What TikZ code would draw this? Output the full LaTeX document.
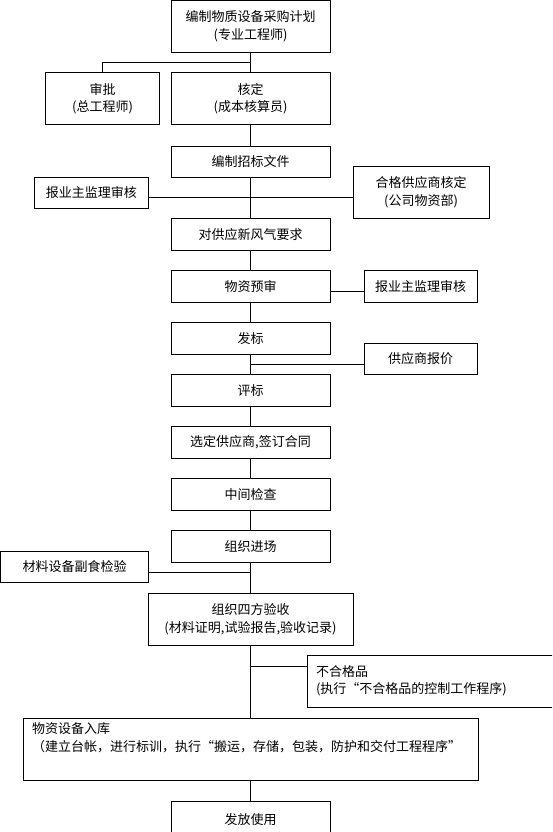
\documentclass[tikz,border=0pt]{standalone}
\usepackage{fontspec}
\setmainfont{Noto Sans CJK SC}
\usetikzlibrary{positioning,calc}

\begin{document}
\begin{tikzpicture}[
    x=1pt, y=-1pt,
    font=\fontsize{13pt}{17.5pt}\selectfont,
    box/.style={draw, line width=1pt, align=center, inner sep=2pt,
                minimum height=32pt, minimum width=159pt},
    sidebox/.style={box, minimum width=114pt},
    tallbox/.style={box, minimum height=52pt},
    link/.style={line width=1pt},
  ]
  \clip (0,0) rectangle (552,832);

  % main column
  \node[tallbox] (jh) at (250.5,26.5) {编制物质设备采购计划\\(专业工程师)};
  \node[tallbox, below=19.5pt of jh] (hd) {核定\\(成本核算员)};
  \node[box, minimum height=31pt, below=20pt of hd] (zb) {编制招标文件};
  \node[box, below=40.5pt of zb] (yq) {对供应新风气要求};
  \node[box, below=19pt of yq] (ys) {物资预审};
  \node[box, below=19pt of ys] (fb) {发标};
  \node[box, below=19pt of fb] (pb) {评标};
  \node[box, below=19pt of pb] (xd) {选定供应商,签订合同};
  \node[box, below=19pt of xd] (jc) {中间检查};
  \node[box, below=19pt of jc] (jcc) {组织进场};
  \node[tallbox, minimum width=205pt, below=30pt of jcc] (sfys) {组织四方验收\\(材料证明,试验报告,验收记录)};
  \node[box, minimum height=62pt, minimum width=0pt, text width=437pt, inner xsep=9pt,
        align=left, below=72pt of sfys] (rk)
    {物资设备入库\\（建立台帐，进行标训，执行“搬运，存储，包装，防护和交付工程程序”\\[7pt]~};
  \node[box, minimum height=36pt, below=20pt of rk] (ff) {发放使用};

  % side boxes
  \node[sidebox, minimum height=52pt, left=10.5pt of hd] (sp) {审批\\(总工程师)};
  \node[sidebox, minimum height=31pt] (bz) at (91.3,192.8) {报业主监理审核};
  \node[tallbox, minimum width=136pt] (hg) at (421,192.3) {合格供应商核定\\(公司物资部)};
  \node[sidebox, minimum width=113pt, right=33pt of ys] (bzz) {报业主监理审核};
  \node[sidebox, minimum width=113pt, minimum height=31pt] (bj) at (420.7,358.7) {供应商报价};
  \node[sidebox, minimum width=148pt, minimum height=31pt] (cl) at (74.5,566.8) {材料设备副食检验};
  \node[tallbox, minimum width=0pt, text width=243pt, inner xsep=8.5pt, align=left,
        anchor=west] (bhg) at (307,681) {不合格品\\(执行“不合格品的控制工作程序)};

  % connectors
  \draw[link] (jh) -- (hd);
  \draw[link] ($(jh.south)!.5!(hd.north)$) -| (sp.north);
  \draw[link] (hd) -- (zb);
  \draw[link] (zb) -- (yq);
  \coordinate (m1) at ($(zb.south)!.5!(yq.north)$);
  \draw[link] (bz.east |- m1) -- (hg.west |- m1);
  \draw[link] (yq) -- (ys);
  \draw[link] ([yshift=-5pt]ys.east) -- ([yshift=-5pt]bzz.west);
  \draw[link] (ys) -- (fb);
  \draw[link] (fb) -- (pb);
  \coordinate (m2) at ($(fb.south)!.5!(pb.north)$);
  \draw[link] (m2) -- (bj.west |- m2);
  \draw[link] (pb) -- (xd);
  \draw[link] (xd) -- (jc);
  \draw[link] (jc) -- (jcc);
  \draw[link] (jcc) -- (sfys);
  \coordinate (m3) at ($(jcc.south)!.33!(sfys.north)$);
  \draw[link] (cl.east |- m3) -- (m3);
  \draw[link] (sfys) -- (rk);
  \coordinate (m4) at ($(sfys.south)!.28!(rk.north)$);
  \draw[link] (m4) -- (bhg.west |- m4);
  \draw[link] (rk) -- (ff);
\end{tikzpicture}
\end{document}
